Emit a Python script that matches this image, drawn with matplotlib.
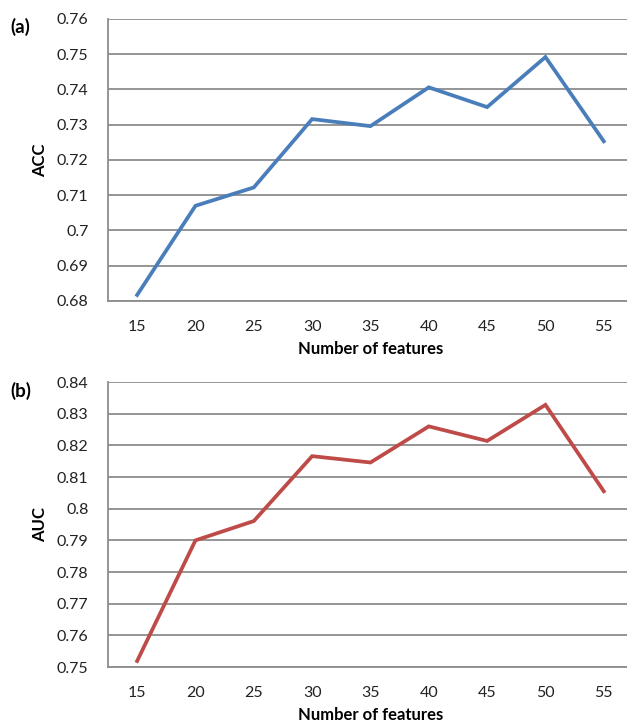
import matplotlib
matplotlib.use("Agg")
from matplotlib import pyplot as plt

# accuracy / AUC vs. number of selected features
n_features = [15, 20, 25, 30, 35, 40, 45, 50, 55]
acc = [0.6817, 0.7070, 0.7122, 0.7316, 0.7296, 0.7406, 0.7350, 0.7492, 0.7253]
auc = [0.7519, 0.7900, 0.7961, 0.8166, 0.8146, 0.8260, 0.8214, 0.8328, 0.8055]

acc_ticks = [0.68, 0.69, 0.70, 0.71, 0.72, 0.73, 0.74, 0.75, 0.76]
acc_labels = ["0.68", "0.69", "0.7", "0.71", "0.72", "0.73", "0.74", "0.75", "0.76"]
auc_ticks = [0.75, 0.76, 0.77, 0.78, 0.79, 0.80, 0.81, 0.82, 0.83, 0.84]
auc_labels = ["0.75", "0.76", "0.77", "0.78", "0.79", "0.8", "0.81", "0.82", "0.83", "0.84"]

plt.rcParams['font.family'] = ['Lato', 'DejaVu Sans']

fig = plt.figure(figsize=(6.27, 7.24), dpi=100)
ax_a = fig.add_axes([0.1722, 0.5843, 0.8373, 0.3895])
ax_b = fig.add_axes([0.1722, 0.0787, 0.8373, 0.3936])

grid_col = "#8c8c8c"


def style(ax, y, ticks, labels, color, ylabel, tag, tag_y):
    xs = range(len(n_features))
    ax.plot(xs, y, color=color, lw=2.7, solid_joinstyle='miter', zorder=3)
    ax.set_xlim(-0.5, len(n_features) - 0.5)
    ax.set_ylim(ticks[0], ticks[-1])
    ax.set_xticks(list(xs))
    ax.set_xticklabels([str(v) for v in n_features])
    ax.set_yticks(ticks)
    ax.set_yticklabels(labels)
    ax.yaxis.grid(True, color=grid_col, lw=1.3)
    ax.set_axisbelow(True)
    for s in ['top', 'right']:
        ax.spines[s].set_visible(False)
    for s in ['left', 'bottom']:
        ax.spines[s].set_color(grid_col)
        ax.spines[s].set_linewidth(1.3)
    ax.tick_params(axis='both', length=0, labelsize=11.5, colors='#222222')
    ax.tick_params(axis='x', pad=14)
    ax.tick_params(axis='y', pad=14)
    ax.set_xlabel("Number of features", fontsize=12, fontweight='bold', labelpad=5)
    ax.set_ylabel(ylabel, fontsize=12, fontweight='bold', labelpad=6)
    fig.text(0.016, tag_y, tag, fontsize=13.5, fontweight='bold', ha='left', va='center')


style(ax_a, acc, acc_ticks, acc_labels, "#4a7ebb", "ACC", "(a)", 1 - 27 / 724)
style(ax_b, auc, auc_ticks, auc_labels, "#be4b48", "AUC", "(b)", 1 - 391 / 724)

plt.savefig("out.png", dpi=100)
